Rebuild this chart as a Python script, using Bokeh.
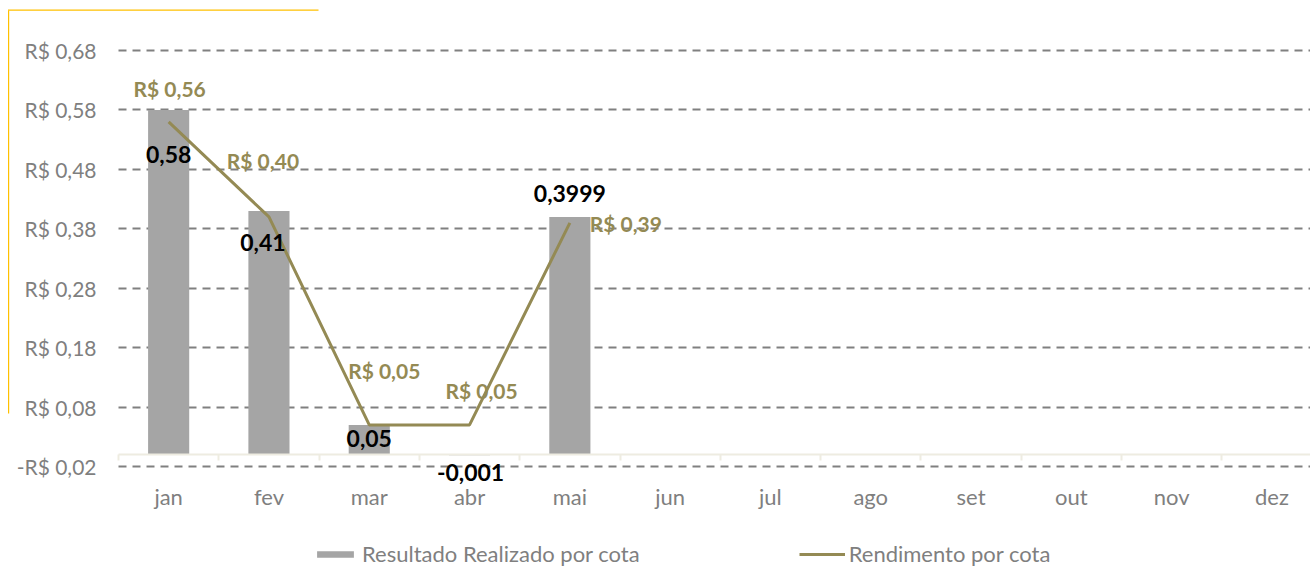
from bokeh.plotting import figure
from bokeh.models import (Range1d, FixedTicker, CustomJSTickFormatter, Legend, LegendItem,
                          ColumnDataSource, BoxAnnotation)
from bokeh.core.properties import value
from bokeh.embed import file_html
from bokeh.resources import INLINE

# ---------------- data ----------------
months = ["jan", "fev", "mar", "abr", "mai", "jun", "jul", "ago", "set", "out", "nov", "dez"]
resultado = [0.58, 0.41, 0.05, -0.001, 0.3999]
rendimento = [0.56, 0.40, 0.05, 0.05, 0.39]
resultado_labels = ["0,58", "0,41", "0,05", "-0,001", "0,3999"]
rendimento_labels = ["R$ 0,56", "R$ 0,40", "R$ 0,05", "R$ 0,05", "R$ 0,39"]
y_ticks = [-0.02, 0.08, 0.18, 0.28, 0.38, 0.48, 0.58, 0.68]

# ---------------- styling (label offsets in px) ----------------
res_off_x = [0, -6, 0, 1, 0]
res_off_y = [45, 32, 14, 17, -23]
ren_off_x = [1, -6, 15, 12, 56]
ren_off_y = [-33, -56, -54, -34, 1]

BAR = "#A5A5A5"
OLIVE = "#948A54"
GREY_TXT = "#7F7F7F"
AXIS_C = "#EEECE1"
FONT = "Lato"

X0, X1 = -1.6765, 11.3843      # view range (plot area begins at x = -0.5)
PLOT_X = (-0.5, X1)

xs = list(range(len(resultado)))
src_bar = ColumnDataSource(dict(x=xs, top=resultado, lab=resultado_labels, ox=res_off_x, oy=res_off_y))
src_line = ColumnDataSource(dict(x=xs, y=rendimento, lab=rendimento_labels, ox=ren_off_x, oy=ren_off_y))

p = figure(width=1310, height=569, output_backend="svg", toolbar_location=None,
           x_range=Range1d(X0, X1), y_range=Range1d(-0.1933, 0.7641),
           min_border_left=0, min_border_right=0, min_border_top=0, min_border_bottom=0)
p.outline_line_color = None
p.background_fill_color = "white"
p.border_fill_color = "white"

# y axis (drawn inside the frame, at the left edge of the plot area)
p.yaxis.ticker = FixedTicker(ticks=y_ticks)
p.yaxis.formatter = CustomJSTickFormatter(code="""
    const s = Math.abs(tick).toFixed(2).replace('.', ',');
    return (tick < 0 ? '-R$ ' : 'R$ ') + s;
""")
p.yaxis.fixed_location = -0.5
p.yaxis.axis_line_color = None
p.yaxis.major_tick_line_color = None
p.yaxis.minor_tick_line_color = None
p.yaxis.major_label_text_font = FONT
p.yaxis.major_label_text_font_size = "21px"
p.yaxis.major_label_text_color = GREY_TXT
p.yaxis.major_label_standoff = 16

p.ygrid.ticker = FixedTicker(ticks=y_ticks)
p.ygrid.cross_bounds = PLOT_X
p.ygrid.grid_line_color = "#808080"
p.ygrid.grid_line_width = 2
p.ygrid.grid_line_dash = "8 6"
p.xgrid.grid_line_color = None

xt = FixedTicker(ticks=list(range(len(months))),
                 minor_ticks=[i - 0.5 for i in range(len(months) + 1)])
p.xaxis.ticker = xt
p.xaxis.major_label_overrides = {i: m for i, m in enumerate(months)}
p.xaxis.fixed_location = 0
p.xaxis.bounds = PLOT_X
p.xaxis.axis_line_color = AXIS_C
p.xaxis.axis_line_width = 2
p.xaxis.major_tick_line_color = None
p.xaxis.major_tick_out = 0
p.xaxis.major_tick_in = 0
p.xaxis.minor_tick_line_color = AXIS_C
p.xaxis.minor_tick_line_width = 2
p.xaxis.minor_tick_out = 6
p.xaxis.minor_tick_in = 0
p.xaxis.major_label_text_font = FONT
p.xaxis.major_label_text_font_size = "22px"
p.xaxis.major_label_text_color = GREY_TXT
p.xaxis.major_label_standoff = 22

# glyphs
bars = p.vbar(x="x", top="top", bottom=0, width=0.41, source=src_bar,
              fill_color=BAR, line_color=None)
line = p.line(x="x", y="y", source=src_line, line_color=OLIVE, line_width=3)

p.text(x="x", y="top", text="lab", x_offset="ox", y_offset="oy", source=src_bar,
       text_font=value(FONT), text_font_style="bold", text_font_size="23px",
       text_color="black", text_align="center", text_baseline="middle")
p.text(x="x", y="y", text="lab", x_offset="ox", y_offset="oy", source=src_line,
       text_font=value(FONT), text_font_style="bold", text_font_size="21px",
       text_color=OLIVE, text_align="center", text_baseline="middle")

# partial yellow chart border (screen units, measured from the frame's bottom-left)
p.add_layout(BoxAnnotation(left=7.5, right=8.7, top=559, bottom=156,
                           left_units="screen", right_units="screen",
                           top_units="screen", bottom_units="screen",
                           fill_color="#FFC000", fill_alpha=1, line_color=None))
p.add_layout(BoxAnnotation(left=7.5, right=318, top=560, bottom=558.8,
                           left_units="screen", right_units="screen",
                           top_units="screen", bottom_units="screen",
                           fill_color="#FFC000", fill_alpha=1, line_color=None))

legend = Legend(items=[LegendItem(label="Resultado Realizado por cota", renderers=[bars]),
                       LegendItem(label="Rendimento por cota", renderers=[line])],
                orientation="horizontal", location=(312, 2))
legend.label_text_font = FONT
legend.label_text_font_size = "22px"
legend.label_text_color = GREY_TXT
legend.glyph_width = 46
legend.glyph_height = 8
legend.label_standoff = 4
legend.spacing = 159
legend.padding = 0
legend.margin = 0
legend.border_line_color = None
legend.background_fill_alpha = 0
p.add_layout(legend, "center")

open("out.html", "w").write(file_html(p, INLINE))
